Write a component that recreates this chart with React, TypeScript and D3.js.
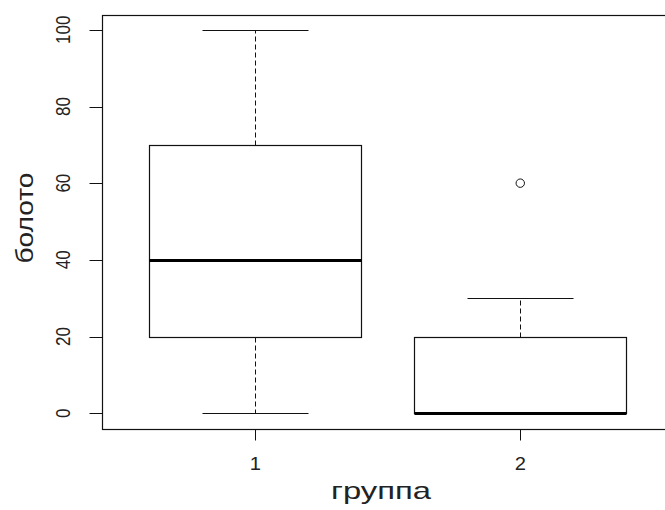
import React from "react";
import * as d3 from "d3";

// boxplot summary per group
const groups = [1, 2];
const lowWhisker = [0, 0];
const q1 = [20, 0];
const medians = [40, 0];
const q3 = [70, 20];
const highWhisker = [100, 30];
const outliers = [[], [60]];
const yTicks = [0, 20, 40, 60, 80, 100];

const W = 665;
const H = 510;
const font = "'Liberation Sans', Arial, sans-serif";

const App = () => {
  // R-style 4% padding around the data range
  const x = d3.scaleLinear().domain([0.42, 2.58]).range([101.5, 674]);
  const y = d3.scaleLinear().domain([-4, 104]).range([428.5, 14.5]);

  const px = (v: number) => Math.round(v) + 0.5;
  const halfBox = 0.4;
  const halfCap = 0.2;
  const ink = "#111";

  return (
    <svg
      width={W}
      height={H}
      style={{ position: "absolute", left: 0, top: 0, background: "#fff" }}
    >
      {/* plot frame */}
      <rect
        x={px(x(0.42))}
        y={px(y(104))}
        width={Math.round(x(2.58) - x(0.42))}
        height={Math.round(y(-4) - y(104))}
        fill="none"
        stroke={ink}
        strokeWidth={1.2}
      />

      {/* y axis ticks and labels, glyphs a bit wide like the source */}
      {yTicks.map((t) => (
        <g key={t}>
          <line
            x1={px(x(0.42)) - 13}
            x2={px(x(0.42))}
            y1={px(y(t))}
            y2={px(y(t))}
            stroke={ink}
          />
          <text
            transform={`translate(70,${y(t)}) scale(1.2,1) rotate(-90)`}
            textAnchor="middle"
            fontFamily={font}
            fontSize={17}
            fill="#222"
          >
            {t}
          </text>
        </g>
      ))}

      {/* x axis ticks and labels */}
      {groups.map((g) => (
        <g key={g}>
          <line
            x1={px(x(g))}
            x2={px(x(g))}
            y1={px(y(-4))}
            y2={px(y(-4)) + 11}
            stroke={ink}
          />
          <text
            transform={`translate(${x(g)},470) scale(1.15,1)`}
            textAnchor="middle"
            fontFamily={font}
            fontSize={17.5}
            fill="#222"
          >
            {g}
          </text>
        </g>
      ))}

      {/* boxes */}
      {groups.map((g, i) => {
        const l = px(x(g - halfBox));
        const r = px(x(g + halfBox));
        const cx = px(x(g));
        return (
          <g key={"box" + g}>
            <line x1={cx} x2={cx} y1={px(y(q3[i]))} y2={px(y(highWhisker[i]))}
              stroke={ink} strokeDasharray="5,3" />
            <line x1={cx} x2={cx} y1={px(y(q1[i]))} y2={px(y(lowWhisker[i]))}
              stroke={ink} strokeDasharray="5,3" />
            <line x1={px(x(g - halfCap))} x2={px(x(g + halfCap))}
              y1={px(y(highWhisker[i]))} y2={px(y(highWhisker[i]))} stroke={ink} />
            <line x1={px(x(g - halfCap))} x2={px(x(g + halfCap))}
              y1={px(y(lowWhisker[i]))} y2={px(y(lowWhisker[i]))} stroke={ink} />
            <rect
              x={l}
              y={px(y(q3[i]))}
              width={r - l}
              height={px(y(q1[i])) - px(y(q3[i]))}
              fill="none"
              stroke={ink}
              strokeWidth={1.2}
            />
            <line x1={l} x2={r} y1={Math.round(y(medians[i])) + 0.5}
              y2={Math.round(y(medians[i])) + 0.5} stroke="#000" strokeWidth={3} />
            {outliers[i].map((o, k) => (
              <circle key={k} cx={x(g)} cy={y(o)} r={4.2} fill="none"
                stroke={ink} strokeWidth={1} />
            ))}
          </g>
        );
      })}

      {/* axis titles */}
      <text
        x={381}
        y={499}
        textAnchor="middle"
        fontFamily={font}
        fontSize={24}
        textLength={100}
        lengthAdjust="spacingAndGlyphs"
        fill="#222"
      >
        группа
      </text>
      <text
        transform="translate(33,218) rotate(-90)"
        textAnchor="middle"
        fontFamily={font}
        fontSize={24}
        textLength={91}
        lengthAdjust="spacingAndGlyphs"
        fill="#222"
      >
        болото
      </text>
    </svg>
  );
};

export default App;
